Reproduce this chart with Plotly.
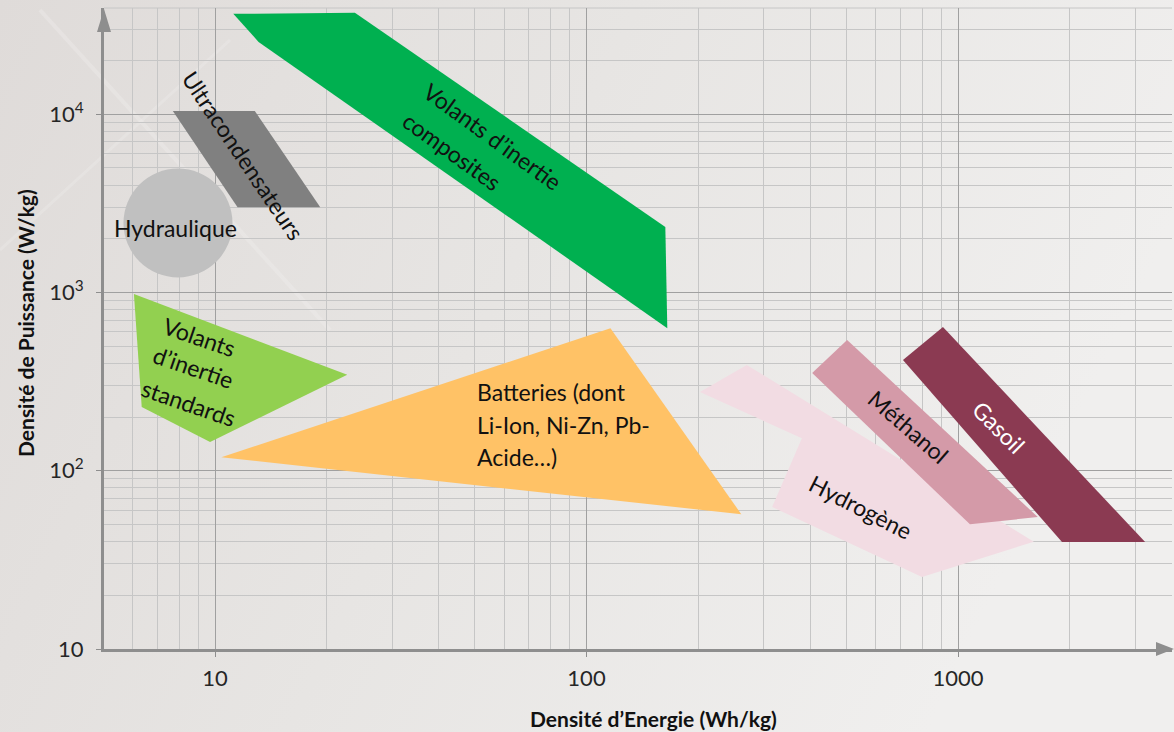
import base64
import numpy as np
import plotly.graph_objects as go

# ---------------- data (energy density Wh/kg, power density W/kg) ----------------
composite_x = [11.2, 23.8, 163, 165, 13.1]
composite_y = [36500, 37000, 2330, 630, 25400]

ultracap_x = [7.7, 12.8, 19.2, 11.5]
ultracap_y = [10400, 10400, 3000, 3000]

hydraulic_x = [7.95]
hydraulic_y = [2450]

standard_x = [6.05, 22.7, 9.7, 6.35]
standard_y = [980, 345, 145, 228]

battery_x = [10.4, 116, 261]
battery_y = [119, 630, 57]

hydrogen_x = [202, 270, 1600, 800, 316, 380]
hydrogen_y = [276, 392, 40, 25.3, 62.6, 152]

methanol_x = [405, 503, 1640, 1077]
methanol_y = [353, 541, 55, 50]

gasoil_x = [711, 911, 3190, 1905]
gasoil_y = [418, 640, 39.8, 39.8]

x_tickvals = [10, 100, 1000]
x_ticktext = ["10", "100", "1000"]
y_tickvals = [10, 100, 1000, 10000]
y_ticktext = ["10", "10<sup>2</sup>", "10<sup>3</sup>", "10<sup>4</sup>"]

x_title = "Densité d’Energie (Wh/kg)"
y_title = "Densité de Puissance (W/kg)"

# label lines: text, x, y, angle, color, xanchor
labels = [
    ("Ultracondensateurs", 11.9, 5900, 56, "#111111", "center"),
    ("Volants d’inertie", 55.7, 7530, 36, "#111111", "center"),
    ("composites", 43.4, 6210, 36, "#111111", "center"),
    ("Hydraulique", 7.85, 2300, 0, "#111111", "center"),
    ("Volants", 9.11, 562, 19, "#111111", "center"),
    ("d’inertie", 8.73, 381, 19, "#111111", "center"),
    ("standards", 8.51, 240, 19, "#111111", "center"),
    ("Batteries (dont", 50.1, 276, 0, "#111111", "left"),
    ("Li-Ion, Ni-Zn, Pb-", 50.1, 180, 0, "#111111", "left"),
    ("Acide…)", 50.1, 119.4, 0, "#111111", "left"),
    ("Méthanol", 738, 176, 41, "#111111", "center"),
    ("Gasoil", 1288, 176, 45, "#ffffff", "center"),
    ("Hydrogène", 548, 62.6, 27, "#111111", "center"),
]

FONT = "Lato, 'Open Sans', sans-serif"

fig = go.Figure()

def poly(xs, ys, color):
    fig.add_trace(go.Scatter(
        x=xs + xs[:1], y=ys + ys[:1], mode="lines", fill="toself",
        fillcolor=color, line=dict(width=0, color=color),
        hoverinfo="skip", showlegend=False))

poly(composite_x, composite_y, "#00b050")
poly(ultracap_x, ultracap_y, "#808080")
fig.add_trace(go.Scatter(
    x=hydraulic_x, y=hydraulic_y, mode="markers",
    marker=dict(size=109, color="#c0c0c0", line=dict(width=0)),
    hoverinfo="skip", showlegend=False))
poly(standard_x, standard_y, "#92d050")
poly(battery_x, battery_y, "#ffc266")
poly(hydrogen_x, hydrogen_y, "#f2dce3")
poly(methanol_x, methanol_y, "#d49aa8")
poly(gasoil_x, gasoil_y, "#8b3a52")

for text, lx, ly, ang, col, xa in labels:
    fig.add_annotation(
        x=np.log10(lx), y=np.log10(ly), xref="x", yref="y", text=text,
        showarrow=False, textangle=ang, xanchor=xa, yanchor="middle",
        font=dict(family=FONT, size=23, color=col))

# axis titles
fig.add_annotation(x=(653 - 104) / 1068, y=-(718 - 649) / 641, xref="paper", yref="paper",
                   text="<b>" + x_title + "</b>", showarrow=False,
                   xanchor="center", yanchor="middle",
                   font=dict(family=FONT, size=21, color="#111111"))
fig.add_annotation(x=-(104 - 25) / 1068, y=(649 - 323) / 641, xref="paper", yref="paper",
                   text="<b>" + y_title + "</b>", showarrow=False, textangle=-90,
                   xanchor="center", yanchor="middle",
                   font=dict(family=FONT, size=21, color="#111111"))

minor_x = [m * 10 ** e for e in range(0, 4) for m in range(2, 10)]
minor_y = [m * 10 ** e for e in range(1, 5) for m in range(2, 10)]

axis_common = dict(
    type="log", showgrid=True, gridcolor="#a0a0a0", gridwidth=1,
    showline=True, linecolor="#8e8e8e", linewidth=3,
    ticks="outside", ticklen=5, tickcolor="#8e8e8e", tickwidth=1,
    zeroline=False, tickfont=dict(family=FONT, size=22, color="#262626"),
)

fig.update_xaxes(range=[1 + (104 - 215) / 371.5, 1 + (1172 - 215) / 371.5],
                 tickvals=x_tickvals, ticktext=x_ticktext,
                 minor=dict(tickvals=minor_x, showgrid=True, gridcolor="#c6c6c6", gridwidth=1),
                 ticklabelstandoff=3, **axis_common)
fig.update_yaxes(range=[1, 1 + (649 - 8) / 178.3],
                 tickvals=y_tickvals, ticktext=y_ticktext,
                 minor=dict(tickvals=minor_y, showgrid=True, gridcolor="#c6c6c6", gridwidth=1),
                 ticklabelstandoff=8, **axis_common)

# axis arrow heads + top border
fig.add_shape(type="path", xref="paper", yref="paper", xsizemode="pixel", ysizemode="pixel",
              xanchor=0, yanchor=1, path="M -7,-24 L 0,-1 L 7,-24 Z",
              fillcolor="#8e8e8e", line=dict(width=0), layer="above")
fig.add_shape(type="path", xref="paper", yref="paper", xsizemode="pixel", ysizemode="pixel",
              xanchor=1, yanchor=0, path="M -16,7 L 2,0 L -16,-7 Z",
              fillcolor="#8e8e8e", line=dict(width=0), layer="above")
fig.add_shape(type="line", xref="paper", yref="paper", x0=0, x1=1, y0=1, y1=1,
              line=dict(color="#c6c6c6", width=1), layer="below")

# subtle background gradient
svg = ('<svg xmlns="http://www.w3.org/2000/svg" width="1174" height="732">'
       '<defs><linearGradient id="g" x1="0" y1="0" x2="1" y2="0.3">'
       '<stop offset="0" stop-color="#dfdbd9"/><stop offset="0.5" stop-color="#e7e5e3"/>'
       '<stop offset="1" stop-color="#f0efee"/></linearGradient></defs>'
       '<rect width="1174" height="732" fill="url(#g)"/>'
       '<line x1="40" y1="10" x2="330" y2="330" stroke="#f4f2f1" stroke-width="4" opacity="0.3"/>'
       '<line x1="0" y1="250" x2="230" y2="40" stroke="#f4f2f1" stroke-width="3" opacity="0.25"/>'
       '</svg>')
src = "data:image/svg+xml;base64," + base64.b64encode(svg.encode()).decode()
fig.add_layout_image(dict(source=src, xref="paper", yref="paper",
                          x=-104 / 1068, y=1 + 8 / 641, sizex=1174 / 1068, sizey=732 / 641,
                          xanchor="left", yanchor="top", sizing="stretch", layer="below"))

fig.update_layout(
    width=1174, height=732, autosize=False,
    margin=dict(l=104, r=2, t=8, b=83),
    paper_bgcolor="#e5e2e0", plot_bgcolor="rgba(0,0,0,0)",
    showlegend=False,
)

fig.write_html("out.html")
